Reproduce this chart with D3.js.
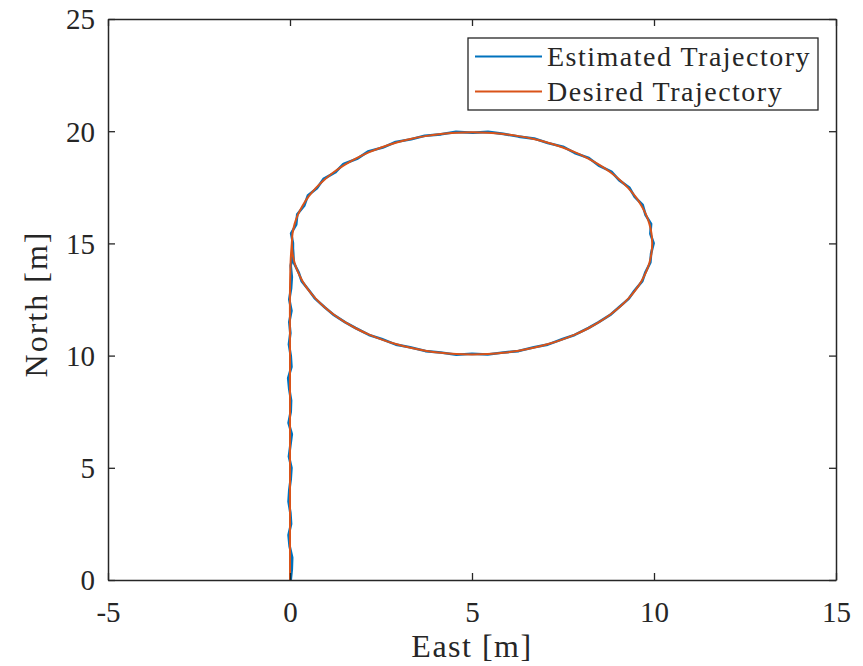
<!DOCTYPE html>
<html><head><meta charset="utf-8">
<script src="https://cdn.jsdelivr.net/npm/d3@7"></script>
<style>body{margin:0;background:#fff}svg{display:block}</style>
</head><body><svg id="c" width="863" height="666"></svg>
<script>
// Data
const xTicks = [-5, 0, 5, 10, 15];
const yTicks = [0, 5, 10, 15, 20, 25];
const seriesNames = ["Estimated Trajectory", "Desired Trajectory"];

const desiredEast  = [0,0,0,0,0.02,0.05,0.069,0.125,0.219,0.349,0.514,0.713,0.945,1.208,1.500,1.818,2.161,2.525,2.908,3.307,3.719,4.141,4.568,5,5.432,5.859,6.281,6.693,7.092,7.475,7.839,8.182,8.500,8.792,9.055,9.287,9.486,9.651,9.781,9.875,9.931,9.95,9.931,9.875,9.781,9.651,9.486,9.287,9.055,8.792,8.500,8.182,7.839,7.475,7.092,6.693,6.281,5.859,5.432,5,4.568,4.141,3.719,3.307,2.908,2.525,2.161,1.818,1.500,1.208,0.945,0.713,0.514,0.349,0.219,0.125,0.069,0.05];
const desiredNorth = [0,5,10,13,14.3,15,15.432,15.859,16.281,16.693,17.092,17.475,17.839,18.182,18.500,18.792,19.055,19.287,19.486,19.651,19.781,19.875,19.931,19.95,19.931,19.875,19.781,19.651,19.486,19.287,19.055,18.792,18.500,18.182,17.839,17.475,17.092,16.693,16.281,15.859,15.432,15,14.568,14.141,13.719,13.307,12.908,12.525,12.161,11.818,11.500,11.208,10.945,10.713,10.514,10.349,10.219,10.125,10.069,10.05,10.069,10.125,10.219,10.349,10.514,10.713,10.945,11.208,11.500,11.818,12.161,12.525,12.908,13.307,13.719,14.141,14.568,15];

const estEast  = [0.02,0.05,0.06,-0.01,-0.04,0.03,0.01,-0.04,-0.02,0.02,0.04,-0.03,0.01,0.05,-0.04,0.02,0.03,-0.02,-0.05,0.04,0.02,-0.03,0.01,-0.02,0.04,-0.02,0.03,0.05,0.02,0.08,
  0.08,0.03,0.17,0.20,0.39,0.49,0.74,0.92,1.24,1.47,1.84,2.14,2.55,2.90,3.33,3.70,4.15,4.56,5.02,5.44,5.86,6.28,6.71,7.08,7.50,7.82,8.21,8.48,8.83,9.04,9.32,9.47,9.69,9.77,9.92,9.90,9.99,
  9.92,9.90,9.76,9.68,9.46,9.31,9.03,8.82,8.47,8.20,7.82,7.49,7.08,6.70,6.28,5.86,5.43,5.00,4.57,4.14,3.72,3.30,2.91,2.52,2.17,1.80,1.52,1.18,0.96,0.69,0.53,0.32,0.24,0.10,0.09,0.07];
const estNorth = [0,0.5,1,1.5,2,2.5,3,3.5,4,4.5,5,5.5,6,6.5,7,7.5,8,8.5,9,9.5,10,10.5,11,11.5,12,12.5,13,13.5,14,14.5,
  15.02,15.45,15.84,16.30,16.68,17.13,17.46,17.87,18.16,18.54,18.77,19.09,19.27,19.52,19.64,19.80,19.86,19.97,19.93,19.97,19.88,19.76,19.67,19.47,19.31,19.03,18.81,18.47,18.20,17.82,17.49,17.07,16.71,16.26,15.87,15.43,15.01,
  14.55,14.15,13.70,13.32,12.89,12.54,12.14,11.84,11.48,11.23,10.92,10.74,10.49,10.37,10.20,10.14,10.05,10.08,10.04,10.14,10.20,10.37,10.49,10.74,10.92,11.23,11.48,11.84,12.14,12.54,12.89,13.32,13.70,14.15,14.55,15.01];

const FONT = '"Liberation Serif","Times New Roman","DejaVu Serif",serif';
const svg = d3.select("#c");
const L = 108, R = 836, T = 19, B = 580;
const x = d3.scaleLinear().domain([-5, 15]).range([L, R]);
const y = d3.scaleLinear().domain([0, 25]).range([B, T]);
const axisColor = "#262626";

svg.append("defs").append("clipPath").attr("id","clip").append("rect").attr("x",L).attr("y",T).attr("width",R-L).attr("height",B-T);

const est = estEast.map((e,i)=>[e, estNorth[i]]);
const des = desiredEast.map((e,i)=>[e, desiredNorth[i]]);
const g = svg.append("g").attr("clip-path","url(#clip)");
g.append("path").datum(est).attr("fill","none").attr("stroke","#0072BD").attr("stroke-width",2.6).attr("stroke-linejoin","round")
  .attr("d", d3.line().x(d=>x(d[0])).y(d=>y(d[1])));
g.append("path").datum(des).attr("fill","none").attr("stroke","#D95319").attr("stroke-width",2).attr("stroke-linejoin","round")
  .attr("d", d3.line().curve(d3.curveCatmullRom).x(d=>x(d[0])).y(d=>y(d[1])));

const tl = 7;
const fs = 29;
const fmt = d => String(d);
const axB = svg.append("g").attr("transform",`translate(0,${B})`)
  .call(d3.axisBottom(x).tickValues(xTicks).tickSize(-tl).tickSizeOuter(0).tickPadding(0).tickFormat(fmt));
const axT = svg.append("g").attr("transform",`translate(0,${T})`)
  .call(d3.axisTop(x).tickValues(xTicks).tickSize(-tl).tickSizeOuter(0).tickFormat(""));
const axL = svg.append("g").attr("transform",`translate(${L},0)`)
  .call(d3.axisLeft(y).tickValues(yTicks).tickSize(-tl).tickSizeOuter(0).tickPadding(13).tickFormat(fmt));
const axR = svg.append("g").attr("transform",`translate(${R},0)`)
  .call(d3.axisRight(y).tickValues(yTicks).tickSize(-tl).tickSizeOuter(0).tickFormat(""));
[axB, axT, axL, axR].forEach(a=>{
  a.attr("font-family", FONT).attr("font-size", fs);
  a.select(".domain").attr("stroke",axisColor).attr("stroke-width",1.5);
  a.selectAll(".tick line").attr("stroke",axisColor).attr("stroke-width",1.3);
  a.selectAll("text").attr("fill",axisColor);
});
axB.selectAll("text").attr("y",42).attr("dy","0");
axL.selectAll("text").attr("dy","0.34em");

svg.append("text").attr("x",472).attr("y",657).attr("text-anchor","middle").attr("font-family",FONT).attr("font-size",32).attr("letter-spacing",1.5).attr("fill",axisColor).text("East [m]");
svg.append("text").attr("transform",`translate(47,304) rotate(-90)`).attr("text-anchor","middle").attr("font-family",FONT).attr("font-size",32).attr("letter-spacing",2).attr("fill",axisColor).text("North [m]");

const lg = svg.append("g");
lg.append("rect").attr("x",468).attr("y",38).attr("width",350).attr("height",72).attr("fill","#fff").attr("stroke",axisColor).attr("stroke-width",1.3);
const colors = ["#0072BD","#D95319"];
seriesNames.forEach((n,i)=>{
  const yy = 56.5 + i*35;
  lg.append("line").attr("x1",475).attr("x2",542).attr("y1",yy).attr("y2",yy).attr("stroke",colors[i]).attr("stroke-width",2);
  lg.append("text").attr("x",547).attr("y",yy).attr("dy","0.33em").attr("font-family",FONT).attr("font-size",28).attr("letter-spacing",1.5).attr("fill",axisColor).text(n);
});
</script></body></html>
